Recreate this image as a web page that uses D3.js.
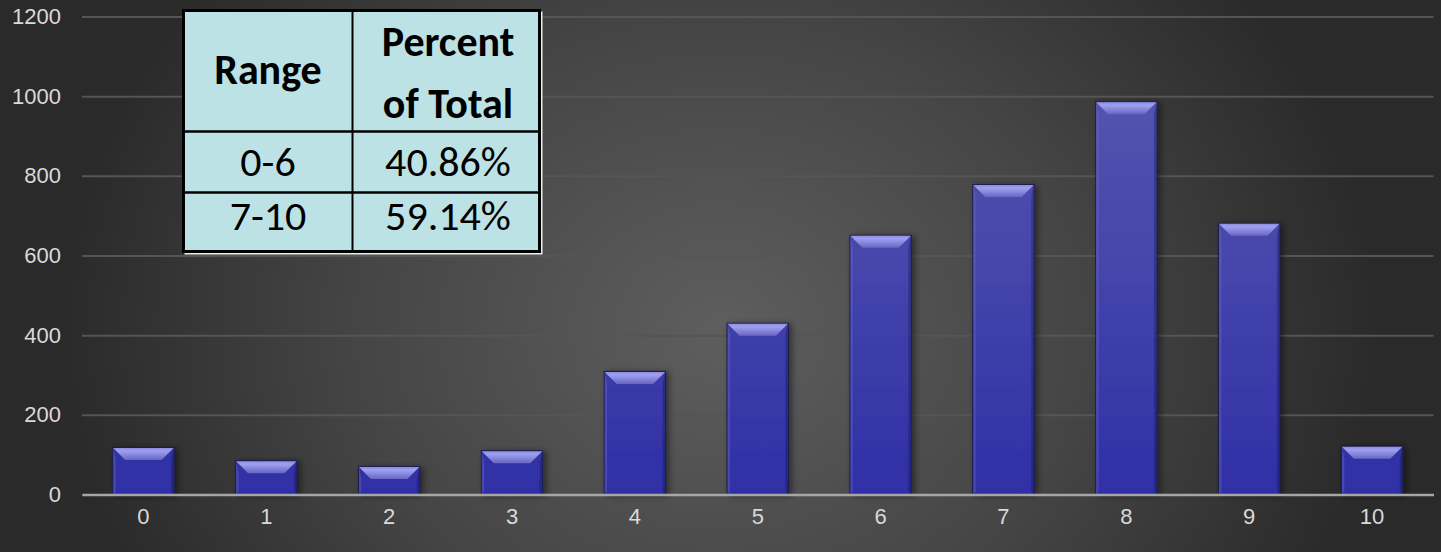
<!DOCTYPE html>
<html>
<head>
<meta charset="utf-8">
<script src="https://cdn.jsdelivr.net/npm/d3@7"></script>
<style>
  html, body { margin: 0; padding: 0; background: #2a2a2a; }
  svg { display: block; }
</style>
</head>
<body>
<div class="container"></div>
<script>
// chart data
const categories = ["0", "1", "2", "3", "4", "5", "6", "7", "8", "9", "10"];
const counts = [118, 85, 70, 110, 309, 430, 651, 778, 986, 681, 121];
const yTicks = [0, 200, 400, 600, 800, 1000, 1200];

// summary table
const tableHeader = ["Range", "Percent\nof Total"];
const tableRanges = ["0-6", "7-10"];
const tablePercents = ["40.86%", "59.14%"];

const width = 1441, height = 552;
const margin = { top: 16.5, right: 7.5, bottom: 57.5, left: 82 };

const svg = d3.select('.container').append('svg')
  .attr('width', width)
  .attr('height', height);

const defs = svg.append('defs');

// background - dark with a lighter centre
const bg = defs.append('radialGradient')
  .attr('id', 'bgGrad')
  .attr('gradientUnits', 'userSpaceOnUse')
  .attr('cx', 720).attr('cy', 330).attr('r', 660)
  .attr('gradientTransform', 'translate(720,330) scale(1,0.85) translate(-720,-330)');
bg.append('stop').attr('offset', '0%').attr('stop-color', '#5e5e5e');
bg.append('stop').attr('offset', '55%').attr('stop-color', '#454545');
bg.append('stop').attr('offset', '100%').attr('stop-color', '#2a2a2a');

// bar body gradient (shared across the plot height)
const barGrad = defs.append('linearGradient')
  .attr('id', 'barGrad')
  .attr('gradientUnits', 'userSpaceOnUse')
  .attr('x1', 0).attr('x2', 0)
  .attr('y1', margin.top).attr('y2', height - margin.bottom);
barGrad.append('stop').attr('offset', '0%').attr('stop-color', '#5a5ab0');
barGrad.append('stop').attr('offset', '55%').attr('stop-color', '#4444ab');
barGrad.append('stop').attr('offset', '100%').attr('stop-color', '#2f2fa6');

const bevelGrad = defs.append('linearGradient')
  .attr('id', 'bevelGrad')
  .attr('x1', 0).attr('x2', 0).attr('y1', 0).attr('y2', 1);
bevelGrad.append('stop').attr('offset', '0%').attr('stop-color', '#8c8ce4');
bevelGrad.append('stop').attr('offset', '25%').attr('stop-color', '#a0a0f0');
bevelGrad.append('stop').attr('offset', '100%').attr('stop-color', '#6666c4');

const shadow = defs.append('filter').attr('id', 'barShadow')
  .attr('x', '-20%').attr('y', '-10%').attr('width', '150%').attr('height', '130%');
shadow.append('feDropShadow')
  .attr('dx', 3).attr('dy', 1).attr('stdDeviation', 3)
  .attr('flood-color', '#000').attr('flood-opacity', 0.45);

svg.append('rect')
  .attr('width', width).attr('height', height)
  .attr('fill', 'url(#bgGrad)');

// scales
const x = d3.scaleBand()
  .domain(categories)
  .range([margin.left, width - margin.right])
  .paddingInner(0.5)
  .paddingOuter(0.25);

const y = d3.scaleLinear()
  .domain([0, 1200])
  .range([height - margin.bottom, margin.top]);

// gridlines + y labels
const yAxis = svg.append('g')
  .attr('transform', `translate(${margin.left},0)`)
  .call(d3.axisLeft(y)
    .tickValues(yTicks)
    .tickFormat(d3.format('d'))
    .tickSize(-(width - margin.left - margin.right))
    .tickPadding(21));
yAxis.select('.domain').remove();
yAxis.selectAll('.tick line')
  .attr('stroke', '#555555')
  .attr('stroke-width', 2);
yAxis.selectAll('.tick text')
  .attr('fill', '#d9d9d9')
  .style('font-family', '"Liberation Sans", Arial, sans-serif')
  .style('font-size', '22px');

// bars
const bars = svg.append('g').selectAll('g')
  .data(counts)
  .join('g')
  .attr('filter', 'url(#barShadow)');

const bev = 12;
bars.append('rect')
  .attr('x', (d, i) => x(categories[i]))
  .attr('y', d => y(d))
  .attr('width', x.bandwidth())
  .attr('height', d => y(0) - y(d))
  .attr('fill', 'url(#barGrad)')
  .attr('stroke', '#1c1c4a')
  .attr('stroke-width', 1);

// top bevel
bars.append('path')
  .attr('d', (d, i) => {
    const x0 = x(categories[i]) + 0.5, x1 = x0 + x.bandwidth() - 1, y0 = y(d) + 0.5;
    return `M${x0},${y0}L${x1},${y0}L${x1 - bev},${y0 + bev}L${x0 + bev},${y0 + bev}Z`;
  })
  .attr('fill', 'url(#bevelGrad)');

// side bevels
bars.append('path')
  .attr('d', (d, i) => {
    const x0 = x(categories[i]), y0 = y(d), y1 = y(0);
    return `M${x0 + 0.5},${y0}L${x0 + 3},${y0 + bev}L${x0 + 3},${y1 - 3}L${x0 + 0.5},${y1}Z`;
  })
  .attr('fill', '#7070c8')
  .attr('opacity', 0.35);
bars.append('path')
  .attr('d', (d, i) => {
    const x1 = x(categories[i]) + x.bandwidth(), y0 = y(d), y1 = y(0);
    return `M${x1 - 0.5},${y0}L${x1 - 3},${y0 + bev}L${x1 - 3},${y1 - 3}L${x1 - 0.5},${y1}Z`;
  })
  .attr('fill', '#15154a')
  .attr('opacity', 0.35);

// x axis
const xAxis = svg.append('g')
  .attr('transform', `translate(0,${y(0)})`)
  .call(d3.axisBottom(x).tickSize(0).tickPadding(14));
xAxis.select('.domain')
  .attr('stroke', '#a6a6a6')
  .attr('stroke-width', 2.5);
xAxis.selectAll('.tick text')
  .attr('fill', '#d9d9d9')
  .style('font-family', '"Liberation Sans", Arial, sans-serif')
  .style('font-size', '22px');

// summary table
const tX = 183.5, tY = 10.5;
const colW = [169, 187];
const rowH = [121, 61, 59];
const table = svg.append('g').attr('transform', `translate(${tX},${tY})`);
const tW = colW[0] + colW[1], tH = rowH[0] + rowH[1] + rowH[2];

table.append('rect')
  .attr('x', 1).attr('y', 1)
  .attr('width', tW + 2).attr('height', tH + 2)
  .attr('fill', '#e6f0f2');
table.append('rect')
  .attr('width', tW).attr('height', tH)
  .attr('fill', '#bde2e5')
  .attr('stroke', '#000')
  .attr('stroke-width', 3);
table.append('line')
  .attr('x1', colW[0]).attr('x2', colW[0])
  .attr('y1', 0).attr('y2', tH)
  .attr('stroke', '#000').attr('stroke-width', 2);
[rowH[0], rowH[0] + rowH[1]].forEach(ry => {
  table.append('line')
    .attr('x1', 0).attr('x2', tW)
    .attr('y1', ry).attr('y2', ry)
    .attr('stroke', '#000').attr('stroke-width', 2.5);
});

const tFont = 'Carlito, Calibri, Lato, "Open Sans", sans-serif';
const colMid = [colW[0] / 2, colW[0] + colW[1] / 2 + 2];
const fSize = '42px';

table.append('text')
  .attr('x', colMid[0]).attr('y', 73)
  .attr('text-anchor', 'middle')
  .style('font-family', tFont).style('font-weight', 'bold').style('font-size', fSize)
  .text(tableHeader[0]);

tableHeader[1].split('\n').forEach((line, i) => {
  table.append('text')
    .attr('x', colMid[1]).attr('y', 45 + i * 62)
    .attr('text-anchor', 'middle')
    .style('font-family', tFont).style('font-weight', 'bold').style('font-size', fSize)
    .text(line);
});

const rowBase = [165.5, 219.5];
tableRanges.forEach((r, i) => {
  table.append('text')
    .attr('x', colMid[0]).attr('y', rowBase[i])
    .attr('text-anchor', 'middle')
    .style('font-family', tFont).style('font-size', fSize)
    .text(r);
  table.append('text')
    .attr('x', colMid[1]).attr('y', rowBase[i])
    .attr('text-anchor', 'middle')
    .style('font-family', tFont).style('font-size', fSize)
    .text(tablePercents[i]);
});
</script>
</body>
</html>
